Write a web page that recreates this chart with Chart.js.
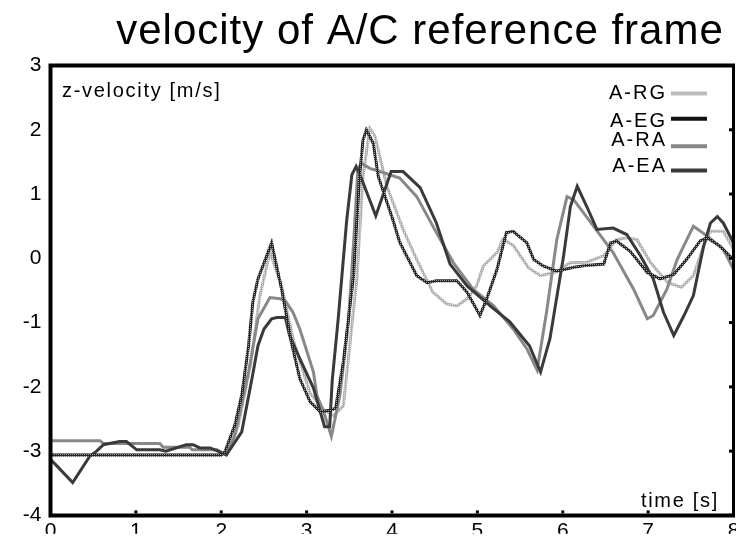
<!DOCTYPE html>
<html>
<head>
<meta charset="utf-8">
<title>velocity of A/C reference frame</title>
<script src="https://cdn.jsdelivr.net/npm/chart.js@4.4.0/dist/chart.umd.min.js"></script>
<style>
  html, body { margin: 0; padding: 0; background: #fff; }
  #chart { display: block; }
</style>
</head>
<body>
<canvas id="chart" width="736" height="537"></canvas>
<script>
const FONT = "'Liberation Sans', Arial, sans-serif";

const xTicks = [0, 1, 2, 3, 4, 5, 6, 7, 8];
const yTicks = [3, 2, 1, 0, -1, -2, -3, -4];
const seriesNames = ["A-RG", "A-EG", "A-RA", "A-EA"];

// A-RG (light gray)
const tRG = [0, 2.0, 2.1, 2.2, 2.35, 2.45, 2.57, 2.7, 2.85, 3.04, 3.2, 3.31, 3.43, 3.59, 3.66, 3.74, 3.8, 3.94, 4.13, 4.29, 4.48, 4.64, 4.76, 4.88, 4.99, 5.07, 5.23, 5.3, 5.42, 5.6, 5.74, 5.9, 6.09, 6.28, 6.48, 6.63, 6.75, 6.87, 7.03, 7.23, 7.39, 7.53, 7.65, 7.73, 7.88, 8.0];
const vRG = [-3.06, -3.06, -2.95, -2.6, -1.6, -0.6, 0.1, -0.4, -1.3, -2.1, -2.35, -2.45, -2.3, -0.3, 1.27, 2.02, 1.9, 1.12, 0.45, -0.02, -0.53, -0.71, -0.74, -0.63, -0.43, -0.12, 0.09, 0.3, 0.2, -0.15, -0.27, -0.22, -0.07, -0.06, 0.04, 0.29, 0.32, 0.29, -0.07, -0.38, -0.45, -0.27, 0.19, 0.42, 0.42, 0.14];

// A-EG (black, hatched)
const tEG = [0, 2.0, 2.04, 2.16, 2.24, 2.32, 2.37, 2.43, 2.59, 2.71, 2.82, 2.92, 3.04, 3.16, 3.29, 3.34, 3.43, 3.55, 3.62, 3.66, 3.7, 3.78, 3.84, 4.01, 4.09, 4.29, 4.41, 4.52, 4.76, 4.88, 5.03, 5.11, 5.23, 5.34, 5.42, 5.58, 5.66, 5.77, 5.93, 6.13, 6.28, 6.48, 6.56, 6.63, 6.79, 6.99, 7.14, 7.3, 7.45, 7.61, 7.69, 7.84, 8.0];
const vEG = [-3.06, -3.06, -3.02, -2.59, -2.13, -1.36, -0.68, -0.32, 0.24, -0.5, -1.3, -1.87, -2.23, -2.39, -2.36, -2.33, -1.61, -0.27, 1.27, 1.84, 2.0, 1.79, 1.27, 0.6, 0.25, -0.27, -0.38, -0.35, -0.35, -0.53, -0.89, -0.63, -0.17, 0.4, 0.42, 0.24, -0.02, -0.12, -0.2, -0.14, -0.11, -0.09, 0.24, 0.27, 0.11, -0.22, -0.32, -0.25, -0.02, 0.27, 0.32, 0.19, -0.02];

// A-RA (mid gray)
const tRA = [0, 0.58, 0.62, 1.28, 1.32, 1.63, 1.66, 1.95, 2.06, 2.16, 2.32, 2.43, 2.57, 2.69, 2.75, 2.84, 2.92, 3.08, 3.12, 3.2, 3.29, 3.39, 3.49, 3.55, 3.6, 3.64, 3.74, 3.86, 4.09, 4.29, 4.52, 4.72, 4.95, 5.19, 5.42, 5.58, 5.7, 5.81, 5.93, 6.05, 6.13, 6.36, 6.59, 6.83, 6.99, 7.06, 7.22, 7.34, 7.53, 7.69, 7.88, 8.0];
const vRA = [-2.84, -2.84, -2.88, -2.88, -2.94, -2.94, -2.98, -2.98, -3.06, -2.75, -1.77, -0.94, -0.61, -0.63, -0.66, -0.84, -1.1, -1.77, -2.13, -2.39, -2.77, -2.13, -0.99, 0.24, 1.38, 1.48, 1.4, 1.35, 1.25, 0.96, 0.4, -0.07, -0.48, -0.74, -1.1, -1.41, -1.74, -0.84, 0.29, 0.96, 0.91, 0.5, 0.09, -0.48, -0.94, -0.89, -0.48, -0.02, 0.5, 0.35, 0.14, -0.17];

// A-EA (dark gray)
const tEA = [0, 0.06, 0.26, 0.46, 0.54, 0.62, 0.81, 0.89, 1.01, 1.28, 1.35, 1.59, 1.67, 1.75, 1.87, 1.94, 2.06, 2.24, 2.36, 2.43, 2.5, 2.59, 2.65, 2.75, 2.8, 2.92, 3.08, 3.16, 3.21, 3.27, 3.3, 3.37, 3.47, 3.53, 3.58, 3.64, 3.81, 3.99, 4.13, 4.33, 4.52, 4.68, 4.88, 5.15, 5.38, 5.61, 5.74, 5.85, 6.01, 6.09, 6.17, 6.28, 6.4, 6.59, 6.75, 6.91, 7.06, 7.18, 7.3, 7.42, 7.53, 7.65, 7.73, 7.81, 7.88, 8.0];
const vEA = [-3.13, -3.21, -3.49, -3.08, -3.0, -2.9, -2.85, -2.85, -2.98, -2.98, -3.0, -2.9, -2.9, -2.95, -2.95, -2.99, -3.06, -2.7, -1.87, -1.36, -1.1, -0.94, -0.92, -0.92, -1.2, -1.56, -2.02, -2.39, -2.62, -2.62, -1.9, -0.94, 0.6, 1.3, 1.43, 1.25, 0.66, 1.35, 1.35, 1.1, 0.55, -0.09, -0.43, -0.74, -0.99, -1.36, -1.77, -1.25, 0.04, 0.81, 1.12, 0.81, 0.45, 0.47, 0.37, 0.04, -0.32, -0.84, -1.2, -0.89, -0.58, 0.19, 0.55, 0.65, 0.55, 0.24];

const legendColors = ["#bbbbbb", "#111111", "#888888", "#3a3a3a"];

const canvas = document.getElementById("chart");
const ctx = canvas.getContext("2d");

// 2x2 texture, like the dithered lines of the original
function checker(c1, c2) {
  const p = document.createElement("canvas");
  p.width = 2;
  p.height = 2;
  const g = p.getContext("2d");
  g.fillStyle = c1;
  g.fillRect(0, 0, 2, 2);
  g.fillStyle = c2;
  g.fillRect(0, 0, 1, 1);
  return ctx.createPattern(p, "repeat");
}

const pts = (t, v) => t.map((x, i) => ({ x: x, y: v[i] }));

function drawText(c, text, x, y, font, spacing, align) {
  c.font = font;
  c.letterSpacing = spacing + "px";
  c.textBaseline = "alphabetic";
  c.textAlign = "left";
  let w = c.measureText(text).width;
  if (align === "center") x -= w / 2;
  if (align === "right") x -= w;
  c.fillText(text, x, y);
  c.letterSpacing = "0px";
}

const frame = {
  id: "frame",
  afterDraw(chart) {
    const c = chart.ctx;
    const a = chart.chartArea;
    const xs = chart.scales.x;
    const ys = chart.scales.y;
    c.save();
    c.strokeStyle = "#000";
    c.lineWidth = 4;
    c.beginPath();
    c.moveTo(a.left - 2, a.top);
    c.lineTo(a.right + 1.5, a.top);
    c.moveTo(a.left, a.top - 2);
    c.lineTo(a.left, a.bottom + 2);
    c.moveTo(a.left - 2, a.bottom);
    c.lineTo(a.right + 1.5, a.bottom);
    c.stroke();
    c.lineWidth = 3;
    c.beginPath();
    c.moveTo(a.right, a.top);
    c.lineTo(a.right, a.bottom);
    c.stroke();

    // small inner tick marks
    c.fillStyle = "#000";
    xTicks.forEach((v) => {
      const px = xs.getPixelForValue(v);
      c.fillRect(px - 1.5, a.bottom - 5, 3, 3);
    });
    yTicks.forEach((v) => {
      const py = ys.getPixelForValue(v);
      c.fillRect(a.right - 4.5, py - 1.5, 3, 3);
    });

    // title and axis labels
    drawText(c, "velocity of A/C reference frame", 420, 44, "42px " + FONT, 1, "center");
    drawText(c, "z-velocity [m/s]", 62, 97, "20px " + FONT, 1.7, "left");
    drawText(c, "time [s]", 719, 507, "20px " + FONT, 1.7, "right");

    // legend
    const textY = [98.5, 127, 146, 171.5];
    const lineY = [93.5, 118.7, 146.3, 170.5];
    seriesNames.forEach((name, i) => {
      drawText(c, name, 667, textY[i], "20px " + FONT, 2, "right");
      c.strokeStyle = legendColors[i];
      c.lineWidth = 4;
      c.beginPath();
      c.moveTo(671, lineY[i]);
      c.lineTo(707, lineY[i]);
      c.stroke();
    });
    c.restore();
  },
};

new Chart(ctx, {
  type: "line",
  data: {
    datasets: [
      { label: seriesNames[0], data: pts(tRG, vRG), borderColor: checker("#b0b0b0", "#dcdcdc"), order: 3 },
      { label: seriesNames[1], data: pts(tEG, vEG), borderColor: checker("#262626", "#9a9a9a"), order: 0 },
      { label: seriesNames[2], data: pts(tRA, vRA), borderColor: "#888888", order: 2 },
      { label: seriesNames[3], data: pts(tEA, vEA), borderColor: "#3a3a3a", order: 1 },
    ],
  },
  options: {
    responsive: false,
    animation: false,
    elements: {
      line: { borderWidth: 3, tension: 0, fill: false },
      point: { radius: 0 },
    },
    layout: { padding: { top: 65.5, right: 2.5, left: 0, bottom: 0 } },
    plugins: {
      legend: { display: false },
      title: { display: false },
      tooltip: { enabled: false },
    },
    scales: {
      x: {
        type: "linear",
        min: 0,
        max: 8,
        grid: { display: false, drawTicks: false },
        border: { display: false },
        ticks: {
          stepSize: 1,
          padding: 3,
          color: "#000",
          font: { family: FONT, size: 21 },
          maxRotation: 0,
        },
        afterFit(scale) {
          scale.height = 18.3;
          scale.paddingLeft = 0;
          scale.paddingRight = 0;
        },
      },
      y: {
        type: "linear",
        min: -4,
        max: 3,
        grid: { display: false, drawTicks: false },
        border: { display: false },
        ticks: {
          stepSize: 1,
          padding: 9,
          color: "#000",
          font: { family: FONT, size: 21 },
        },
        afterFit(scale) {
          scale.width = 50.5;
        },
      },
    },
  },
  plugins: [frame],
});
</script>
</body>
</html>
